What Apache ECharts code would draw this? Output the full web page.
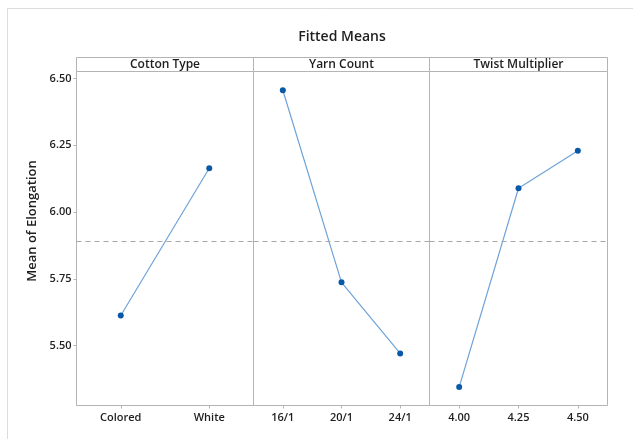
<!DOCTYPE html>
<html>
<head>
<meta charset="utf-8">
<script src="https://cdn.jsdelivr.net/npm/echarts@6/dist/echarts.min.js"></script>
<style>
  html, body { margin: 0; padding: 0; background: #fff; }
  #chart { width: 633px; height: 439px; }
</style>
</head>
<body>
<div id="chart"></div>
<script>
// Fitted means of elongation for each factor
const panelTitles = ['Cotton Type', 'Yarn Count', 'Twist Multiplier'];
const cottonTypes = ['Colored', 'White'];
const cottonMeans = [5.613, 6.164];
const yarnCounts = ['16/1', '20/1', '24/1'];
const yarnMeans = [6.456, 5.737, 5.471];
const twistLevels = ['4.00', '4.25', '4.50'];
const twistMeans = [5.345, 6.089, 6.229];
const overallMean = 5.888;
const yTicks = [5.5, 5.75, 6.0, 6.25, 6.5];

const categories = [cottonTypes, yarnCounts, twistLevels];
const means = [cottonMeans, yarnMeans, twistMeans];

// Panel layout (pixels, half-pixel aligned for crisp 1px borders)
const W = 633, H = 439;
const panelEdges = [76.5, 253.5, 429.5, 607.5];
const plotTop = 71.5, headerTop = 57.5, plotBottom = 405.5;
const yMin = 5.276, yMax = 6.526;

const FONT = '"Open Sans", "Noto Sans", sans-serif';
const borderColor = '#b4b4b4';
const textColor = '#1e1e1e';

const grids = [], xAxes = [], yAxes = [], series = [], graphics = [];

for (let i = 0; i < 3; i++) {
  const left = panelEdges[i], right = panelEdges[i + 1];
  grids.push({
    left: left, width: right - left, top: plotTop, height: plotBottom - plotTop,
    show: true, borderColor: borderColor, borderWidth: 1, backgroundColor: 'transparent'
  });
  xAxes.push({
    type: 'category', gridIndex: i, data: categories[i], boundaryGap: true,
    axisLine: { show: false },
    axisTick: { show: true, alignWithLabel: true, length: 3, lineStyle: { color: borderColor } },
    axisLabel: { color: textColor, fontFamily: FONT, fontSize: 11, fontWeight: 600, margin: 7 },
    splitLine: { show: false }
  });
  yAxes.push({
    type: 'value', gridIndex: i, min: yMin, max: yMax,
    axisLine: { show: false },
    axisTick: { show: i === 0, length: 3, lineStyle: { color: borderColor }, customValues: yTicks },
    axisLabel: {
      show: i === 0, color: textColor, fontFamily: FONT, fontSize: 11, fontWeight: 600, margin: 5,
      customValues: yTicks, formatter: v => v.toFixed(2)
    },
    splitLine: { show: false }
  });
  series.push({
    type: 'line', xAxisIndex: i, yAxisIndex: i, data: means[i],
    lineStyle: { color: '#6fa3d8', width: 1.2 },
    itemStyle: { color: '#0a58a8' },
    symbol: 'circle', symbolSize: 6, showSymbol: true,
    emphasis: { disabled: true },
    markLine: {
      silent: true, symbol: 'none', label: { show: false },
      lineStyle: { color: '#a8a8a8', type: [5, 4], width: 1 },
      data: [{ yAxis: overallMean }]
    },
    z: 3
  });
  // Panel header strip
  graphics.push({
    type: 'rect', shape: { x: left, y: headerTop, width: right - left, height: plotTop - headerTop },
    style: { fill: '#fff', stroke: borderColor, lineWidth: 1 }, z: 1
  });
  graphics.push({
    type: 'text', x: (left + right) / 2, y: (headerTop + plotTop) / 2 + 0.5,
    style: {
      text: panelTitles[i], fill: textColor, font: '600 12px ' + FONT,
      textAlign: 'center', textVerticalAlign: 'middle'
    }, z: 2
  });
}

// Outer frame (top and left edges)
graphics.push({ type: 'line', shape: { x1: 7.5, y1: 8.5, x2: W, y2: 8.5 }, style: { stroke: '#dcdcdc', lineWidth: 1 } });
graphics.push({ type: 'line', shape: { x1: 7.5, y1: 8.5, x2: 7.5, y2: H }, style: { stroke: '#dcdcdc', lineWidth: 1 } });

// Chart title
graphics.push({
  type: 'text', x: (panelEdges[0] + panelEdges[3]) / 2, y: 37,
  style: { text: 'Fitted Means', fill: textColor, font: '600 14px ' + FONT, textAlign: 'center', textVerticalAlign: 'middle' }
});
// Y-axis title
graphics.push({
  type: 'text', x: 32, y: 221, rotation: Math.PI / 2,
  style: { text: 'Mean of Elongation', fill: textColor, font: '600 13px ' + FONT, textAlign: 'center', textVerticalAlign: 'middle' }
});

const chart = echarts.init(document.getElementById('chart'), null, { renderer: 'canvas' });
chart.setOption({
  animation: false,
  backgroundColor: '#fff',
  grid: grids,
  xAxis: xAxes,
  yAxis: yAxes,
  series: series,
  graphic: { elements: graphics }
});
</script>
</body>
</html>
